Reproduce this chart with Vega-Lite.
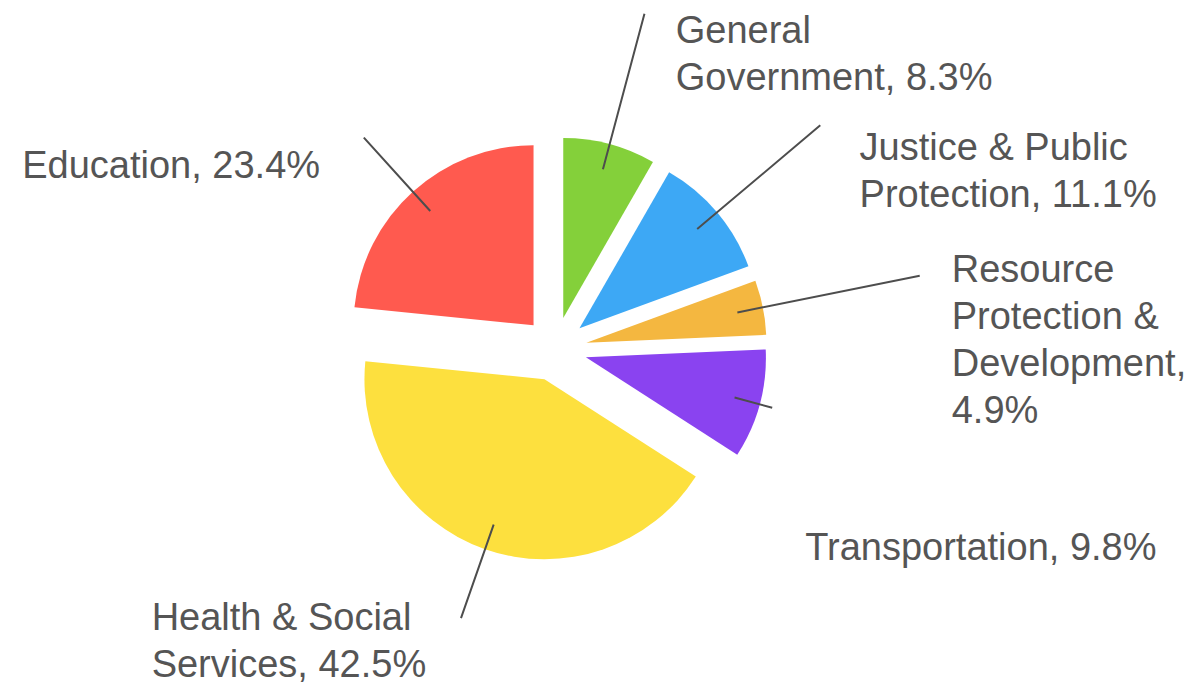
{
  "$schema": "https://vega.github.io/schema/vega-lite/v6.json",
  "autosize": {"type": "none"},
  "width": 1110,
  "height": 678,
  "padding": {"left": 0, "top": 10, "right": 82, "bottom": 0},
  "background": "white",
  "view": {"stroke": null},
  "data": {
    "values": [
      {"Category": "General Government", "Share": 8.3, "Rank": 1, "Label": "General\nGovernment, 8.3%"},
      {"Category": "Justice & Public Protection", "Share": 11.1, "Rank": 2, "Label": "Justice & Public\nProtection, 11.1%"},
      {"Category": "Resource Protection & Development", "Share": 4.9, "Rank": 3, "Label": "Resource\nProtection &\nDevelopment,\n4.9%"},
      {"Category": "Transportation", "Share": 9.8, "Rank": 4, "Label": "Transportation, 9.8%"},
      {"Category": "Health & Social Services", "Share": 42.5, "Rank": 5, "Label": "Health & Social\nServices, 42.5%"},
      {"Category": "Education", "Share": 23.4, "Rank": 6, "Label": "Education, 23.4%"}
    ]
  },
  "encoding": {
    "theta": {"field": "Share", "type": "quantitative", "stack": true},
    "order": {"field": "Rank", "type": "quantitative"}
  },
  "layer": [
    {
      "mark": {
        "type": "arc",
        "radius": 180,
        "x": {"expr": "width/2 + 32*sin(PI*(datum.Share_start + datum.Share_end)/100)"},
        "y": {"expr": "height/2 - 32*cos(PI*(datum.Share_start + datum.Share_end)/100)"}
      },
      "encoding": {
        "color": {
          "field": "Category",
          "type": "nominal",
          "scale": {
            "domain": ["General Government", "Justice & Public Protection", "Resource Protection & Development", "Transportation", "Health & Social Services", "Education"],
            "range": ["#84D03A", "#3DA8F5", "#F4B740", "#8A43F0", "#FDE03E", "#FF5A4F"]
          },
          "legend": null
        }
      }
    },
    {
      "mark": {"type": "arc", "radius": 347, "radius2": 186, "padAngle": 3, "filled": false, "stroke": "#4d4d4d", "strokeWidth": 2},
      "encoding": {"strokeOpacity": {"condition": {"test": "datum.Rank == 1 || datum.Rank == 2", "value": 1}, "value": 0}}
    },
    {
      "mark": {"type": "arc", "radius": 372, "radius2": 186, "padAngle": 3, "filled": false, "stroke": "#4d4d4d", "strokeWidth": 2},
      "encoding": {"strokeOpacity": {"condition": {"test": "datum.Rank == 3", "value": 1}, "value": 0}}
    },
    {
      "mark": {"type": "arc", "radius": 225, "radius2": 186, "padAngle": 3, "filled": false, "stroke": "#4d4d4d", "strokeWidth": 2},
      "encoding": {"strokeOpacity": {"condition": {"test": "datum.Rank == 4", "value": 1}, "value": 0}}
    },
    {
      "mark": {"type": "arc", "radius": 285, "radius2": 186, "padAngle": 3, "filled": false, "stroke": "#4d4d4d", "strokeWidth": 2},
      "encoding": {"strokeOpacity": {"condition": {"test": "datum.Rank == 5 || datum.Rank == 6", "value": 1}, "value": 0}}
    },
    {
      "mark": {"type": "text", "radius": 344, "dx": 32, "dy": 26, "align": "left", "baseline": "alphabetic", "fontSize": 38, "font": "Liberation Sans", "lineHeight": 47, "lineBreak": "\n", "color": "#555555"},
      "encoding": {"text": {"condition": {"test": "datum.Rank == 1", "field": "Label", "type": "nominal"}, "value": ""}}
    },
    {
      "mark": {"type": "text", "radius": 350, "dx": 37, "dy": 37, "align": "left", "baseline": "alphabetic", "fontSize": 38, "font": "Liberation Sans", "lineHeight": 47, "lineBreak": "\n", "color": "#555555"},
      "encoding": {"text": {"condition": {"test": "datum.Rank == 2", "field": "Label", "type": "nominal"}, "value": ""}}
    },
    {
      "mark": {"type": "text", "radius": 372, "dx": 32, "dy": 6, "align": "left", "baseline": "alphabetic", "fontSize": 38, "font": "Liberation Sans", "lineHeight": 47, "lineBreak": "\n", "color": "#555555"},
      "encoding": {"text": {"condition": {"test": "datum.Rank == 3", "field": "Label", "type": "nominal"}, "value": ""}}
    },
    {
      "mark": {"type": "text", "radius": 225, "dx": 33, "dy": 152, "align": "left", "baseline": "alphabetic", "fontSize": 38, "font": "Liberation Sans", "lineHeight": 47, "lineBreak": "\n", "color": "#555555"},
      "encoding": {"text": {"condition": {"test": "datum.Rank == 4", "field": "Label", "type": "nominal"}, "value": ""}}
    },
    {
      "mark": {"type": "text", "radius": 280, "dx": -311, "dy": 17, "align": "left", "baseline": "alphabetic", "fontSize": 38, "font": "Liberation Sans", "lineHeight": 47, "lineBreak": "\n", "color": "#555555"},
      "encoding": {"text": {"condition": {"test": "datum.Rank == 5", "field": "Label", "type": "nominal"}, "value": ""}}
    },
    {
      "mark": {"type": "text", "radius": 289, "dx": -339, "dy": 43, "align": "left", "baseline": "alphabetic", "fontSize": 38, "font": "Liberation Sans", "lineHeight": 47, "lineBreak": "\n", "color": "#555555"},
      "encoding": {"text": {"condition": {"test": "datum.Rank == 6", "field": "Label", "type": "nominal"}, "value": ""}}
    }
  ]
}
